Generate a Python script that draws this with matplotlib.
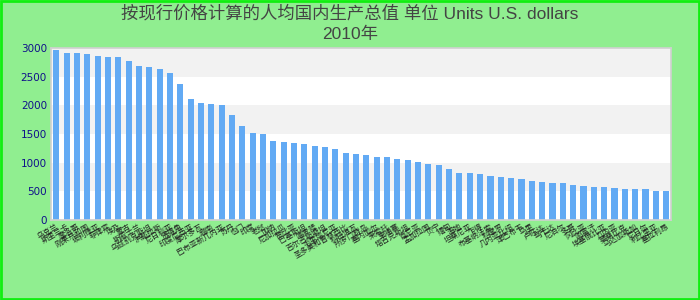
import matplotlib
matplotlib.use("Agg")
import matplotlib.pyplot as plt
from matplotlib.patches import Rectangle

plt.rcParams['font.family'] = ['DejaVu Sans', 'Noto Sans CJK SC']

title_line1 = "按现行价格计算的人均国内生产总值 单位 Units U.S. dollars"
title_line2 = "2010年"

categories = [
    "乌克兰", "斯里兰卡", "摩洛哥", "刚果共和国", "玻利维亚", "菲律宾", "埃及", "蒙古",
    "斯威士兰", "乌兹别克斯坦", "洪都拉斯", "尼日利亚", "佛得角", "印度尼西亚", "摩尔多瓦", "越南",
    "巴布亚新几内亚", "苏丹", "也门", "印度", "老挝", "加纳", "尼加拉瓜", "赞比亚",
    "巴基斯坦", "喀麦隆", "吉尔吉斯斯坦", "毛里塔尼亚", "圣多美和普林西比", "科特迪瓦", "所罗门群岛", "塞内加尔",
    "莱索托", "柬埔寨", "塔吉克斯坦", "肯尼亚", "孟加拉国", "贝宁", "缅甸", "海地",
    "坦桑尼亚", "乍得", "布基纳法索", "科摩罗", "几内亚比绍", "津巴布韦", "马里", "卢旺达",
    "乌干达", "尼泊尔", "多哥", "冈比亚", "阿富汗", "埃塞俄比亚", "几内亚", "莫桑比克",
    "马达加斯加", "尼日尔", "利比里亚", "塞拉利昂",
]

values = [
    2965, 2913, 2913, 2895, 2860, 2843, 2843, 2773, 2686, 2669, 2634, 2564, 2372, 2110, 2041, 2023,
    2006, 1832, 1645, 1517, 1500, 1378, 1360, 1343, 1325, 1290, 1273, 1238, 1168, 1151,
    1134, 1099, 1099, 1064, 1046, 1012, 977, 959, 889, 820, 820, 802, 767, 750, 732, 715,
    680, 663, 645, 645, 610, 593, 576, 576, 558, 541, 541, 541, 506, 506,
]

y_ticks = [0, 500, 1000, 1500, 2000, 2500, 3000]

fig = plt.figure(figsize=(7, 3), dpi=100, facecolor='#90ee90')
# figure border
fig.patches.append(Rectangle((0.0015, 0.003), 0.997, 0.994, transform=fig.transFigure,
                             fill=False, edgecolor='#11ee11', linewidth=2.0, zorder=10))

ax = fig.add_axes([0.073, 0.267, 0.886, 0.573])
ax.set_facecolor('white')
for i in range(len(y_ticks) - 1):
    if i % 2 == 1:
        ax.axhspan(y_ticks[i], y_ticks[i + 1], color='#f2f2f2', zorder=0, linewidth=0)

x = list(range(len(values)))
ax.bar(x, values, width=0.6, color='#62aaf4', zorder=2)

ax.set_xlim(-0.5, len(values) - 0.5)
ax.set_ylim(0, 3000)
ax.set_yticks(y_ticks)
ax.set_yticklabels([str(t) for t in y_ticks], color='#10108a', fontsize=7.5)
ax.set_xticks(x)
ax.set_xticklabels(categories, rotation=30, ha='right', rotation_mode='anchor',
                   fontsize=5.5, color='#222222', family=['Noto Sans CJK SC', 'DejaVu Sans'])
ax.tick_params(axis='both', length=0, pad=3)
ax.tick_params(axis='x', pad=2)
for s in ax.spines.values():
    s.set_color('#d0d0d0')
    s.set_linewidth(1.2)

fig.text(0.5, 0.955, title_line1, ha='center', va='center', fontsize=12.5, color='#444444',
         family=['Liberation Sans', 'Noto Sans CJK SC'])
fig.text(0.5, 0.885, title_line2, ha='center', va='center', fontsize=12.5, color='#444444',
         family=['Liberation Sans', 'Noto Sans CJK SC'])

fig.savefig('out.png', dpi=100, facecolor=fig.get_facecolor())
